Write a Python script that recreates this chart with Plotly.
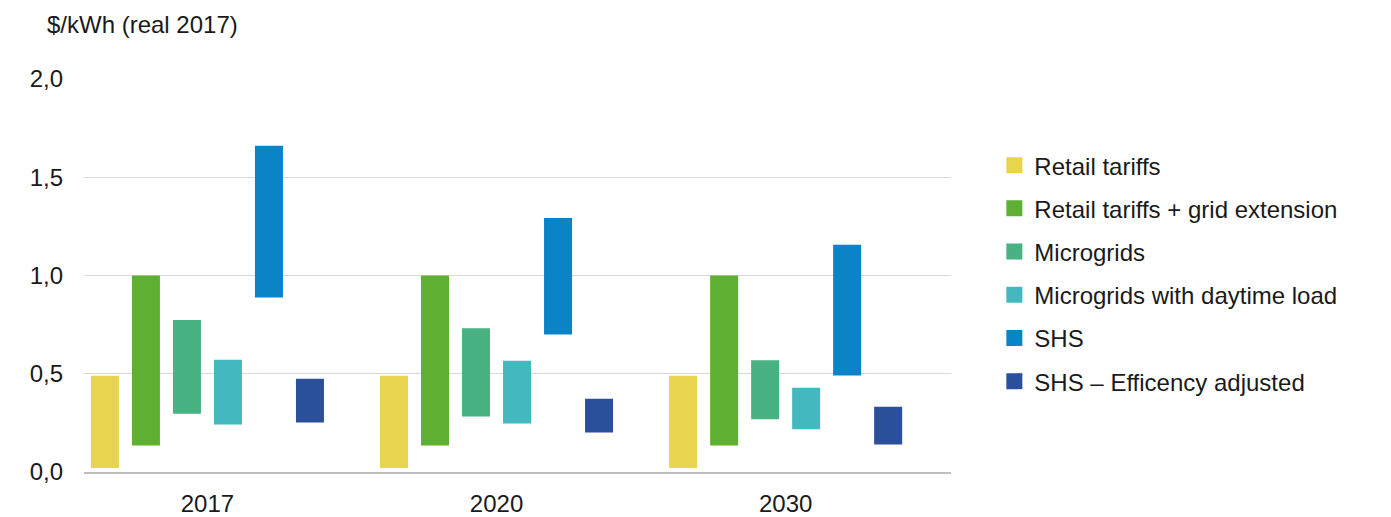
import plotly.graph_objects as go

years = ["2017", "2020", "2030"]
series_names = [
    "Retail tariffs",
    "Retail tariffs + grid extension",
    "Microgrids",
    "Microgrids with daytime load",
    "SHS",
    "SHS – Efficency adjusted",
]
retail_low = [0.02, 0.02, 0.02]
retail_high = [0.49, 0.49, 0.49]
grid_low = [0.135, 0.135, 0.135]
grid_high = [1.0, 1.0, 1.0]
micro_low = [0.296, 0.283, 0.268]
micro_high = [0.773, 0.732, 0.569]
daytime_low = [0.242, 0.247, 0.217]
daytime_high = [0.571, 0.566, 0.429]
shs_low = [0.888, 0.70, 0.491]
shs_high = [1.66, 1.293, 1.156]
shs_eff_low = [0.252, 0.201, 0.14]
shs_eff_high = [0.474, 0.373, 0.332]

lows = [retail_low, grid_low, micro_low, daytime_low, shs_low, shs_eff_low]
highs = [retail_high, grid_high, micro_high, daytime_high, shs_high, shs_eff_high]
colors = ["#E8D44F", "#5FAF32", "#49B282", "#43B8BE", "#0A84C7", "#2A4F9B"]

FONT = "Liberation Sans, Arial, sans-serif"
FS = 24

fig = go.Figure()
for name, lo, hi, col in zip(series_names, lows, highs, colors):
    fig.add_trace(go.Bar(
        x=years, y=[h - l for h, l in zip(hi, lo)], base=lo,
        name=name, marker=dict(color=col, line=dict(width=0)),
        showlegend=False,
    ))
for i, (name, col) in enumerate(zip(series_names, colors)):
    fig.add_trace(go.Scatter(
        x=[None], y=[None], mode="markers", name=name,
        marker=dict(symbol="square", size=18, color=col),
        legendgroup=f"g{i}", showlegend=True,
    ))

fig.update_layout(
    width=1391, height=517,
    margin=dict(l=84, r=440, t=79, b=45),
    paper_bgcolor="white", plot_bgcolor="white",
    barmode="group", bargap=0.149, bargroupgap=0.317,
    separators=", ",
    font=dict(family=FONT, size=FS, color="#1a1a1a"),
    showlegend=True,
    legend=dict(
        x=1.05, xanchor="left", y=0.505, yanchor="middle",
        font=dict(family=FONT, size=FS, color="#1a1a1a"),
        tracegroupgap=9, bgcolor="rgba(0,0,0,0)",
    ),
    xaxis=dict(
        type="category", range=[-0.427, 2.572], automargin=False,
        showgrid=False, showline=True, linecolor="#BFBFBF", linewidth=1.5,
        ticks="", ticklabelstandoff=9,
        tickfont=dict(family=FONT, size=FS, color="#1a1a1a"),
    ),
    yaxis=dict(
        range=[0, 2.0], tickvals=[0, 0.5, 1.0, 1.5, 2.0], tickformat=".1f",
        automargin=False,
        showgrid=True, gridcolor="#D9D9D9", gridwidth=1,
        zeroline=False, showline=False, ticks="", ticklabelstandoff=20,
        tickfont=dict(family=FONT, size=FS, color="#1a1a1a"),
    ),
    annotations=[dict(
        text="$/kWh (real 2017)", xref="paper", yref="paper",
        x=(45 - 84) / 867, y=(472.3 - 24) / 393.4,
        xanchor="left", yanchor="middle",
        showarrow=False, font=dict(family=FONT, size=FS, color="#1a1a1a"),
    )],
)

fig.write_html("out.html")
